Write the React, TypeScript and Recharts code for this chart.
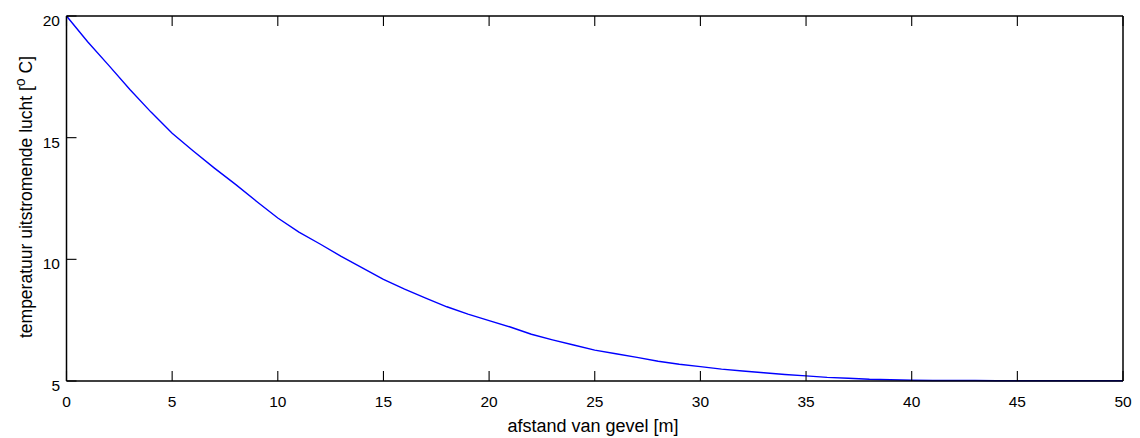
import React from 'react';
import { LineChart, Line, XAxis, YAxis, Label } from 'recharts';

// afstand van gevel [m]
const distance = [
  0, 1, 2, 3, 4, 5, 6, 7, 8, 9, 10, 11, 12, 13, 14, 15, 16, 17, 18, 19, 20,
  21, 22, 23, 24, 25, 26, 27, 28, 29, 30, 31, 32, 33, 34, 35, 36, 37, 38, 39, 40,
  41, 42, 43, 44, 45, 46, 47, 48, 49, 50,
];

// temperatuur uitstromende lucht [oC]
const temperature = [
  20.0, 18.94, 17.97, 16.98, 16.05, 15.18, 14.45, 13.75, 13.08, 12.38, 11.7,
  11.12, 10.63, 10.12, 9.65, 9.18, 8.78, 8.41, 8.05, 7.75, 7.48,
  7.22, 6.92, 6.69, 6.48, 6.27, 6.12, 5.97, 5.81, 5.69, 5.59,
  5.49, 5.41, 5.34, 5.27, 5.21, 5.15, 5.11, 5.07, 5.05, 5.03,
  5.02, 5.02, 5.02, 5.01, 5.01, 5.01, 5.01, 5.01, 5.01, 5.01,
];

const xTicks = [0, 5, 10, 15, 20, 25, 30, 35, 40, 45, 50];
const yTicks = [5, 10, 15, 20];

const data = distance.map((d, i) => ({ x: d, t: temperature[i] }));

const font = '"Liberation Sans", Arial, Helvetica, sans-serif';
const axisLine = { stroke: '#000', strokeWidth: 1.5 };

// matlab style ticks: short marks pointing into the plot box
const Tick = ({ x, y, payload, side }: any) => {
  const len = 10;
  let line;
  let label = null;
  if (side === 'bottom') {
    line = <line x1={x} y1={y} x2={x} y2={y - len} />;
    label = (
      <text x={x} y={y + 26} textAnchor="middle">
        {payload.value}
      </text>
    );
  } else if (side === 'top') {
    line = <line x1={x} y1={y} x2={x} y2={y + len} />;
  } else if (side === 'left') {
    line = <line x1={x} y1={y} x2={x + len} y2={y} />;
    label = (
      <text x={x - 6.5} y={y + 10} textAnchor="end">
        {payload.value}
      </text>
    );
  } else {
    line = <line x1={x} y1={y} x2={x - len} y2={y} />;
  }
  return (
    <g stroke="#000" strokeWidth={1.1}>
      {line}
      {label && (
        <g stroke="none" fill="#000" fontSize={15.5} fontFamily={font}>
          {label}
        </g>
      )}
    </g>
  );
};

const YTitle = () => (
  <text
    x={32}
    y={197}
    transform="rotate(-90 32 197)"
    textAnchor="middle"
    fill="#000"
    fontSize={17.5}
    fontFamily={font}
  >
    temperatuur uitstromende lucht [<tspan dy={-7} fontSize={14}>o</tspan>
    <tspan dy={7}> C]</tspan>
  </text>
);

const XTitle = () => (
  <text x={593} y={432} textAnchor="middle" fill="#000" fontSize={18} fontFamily={font}>
    afstand van gevel [m]
  </text>
);

export default function App() {
  return (
    <div style={{ position: 'absolute', left: 0, top: 0, background: '#fff' }}>
      <LineChart
        width={1140}
        height={438}
        data={data}
        margin={{ top: 15, right: 16, left: 0, bottom: 0 }}
      >
        <XAxis
          dataKey="x"
          type="number"
          domain={[0, 50]}
          ticks={xTicks}
          interval={0}
          height={57}
          axisLine={axisLine}
          tickLine={false}
          tickSize={0}
          tickMargin={0}
          tick={(p: any) => <Tick {...p} side="bottom" />}
        >
          <Label content={XTitle} />
        </XAxis>
        <XAxis
          xAxisId="top"
          orientation="top"
          dataKey="x"
          type="number"
          domain={[0, 50]}
          ticks={xTicks}
          interval={0}
          height={1}
          axisLine={axisLine}
          tickLine={false}
          tickSize={0}
          tickMargin={0}
          tick={(p: any) => <Tick {...p} side="top" />}
        />
        <YAxis
          type="number"
          domain={[5, 20]}
          ticks={yTicks}
          interval={0}
          width={66.5}
          axisLine={axisLine}
          tickLine={false}
          tickSize={0}
          tickMargin={0}
          tick={(p: any) => <Tick {...p} side="left" />}
        >
          <Label content={YTitle} />
        </YAxis>
        <YAxis
          yAxisId="right"
          orientation="right"
          type="number"
          domain={[5, 20]}
          ticks={yTicks}
          interval={0}
          width={1}
          axisLine={axisLine}
          tickLine={false}
          tickSize={0}
          tickMargin={0}
          tick={(p: any) => <Tick {...p} side="right" />}
        />
        <Line
          type="linear"
          dataKey="t"
          stroke="#0000ff"
          strokeWidth={1.4}
          dot={false}
          activeDot={false}
          isAnimationActive={false}
        />
      </LineChart>
    </div>
  );
}
